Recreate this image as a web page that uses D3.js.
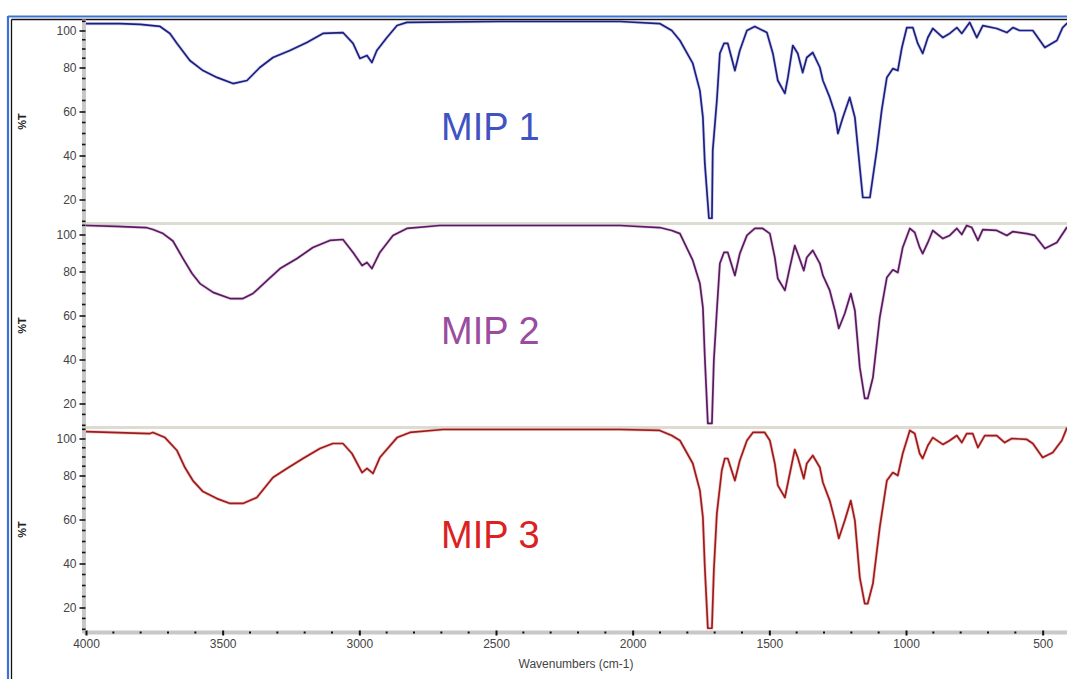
<!DOCTYPE html>
<html>
<head>
<meta charset="utf-8">
<script src="https://cdn.jsdelivr.net/npm/d3@7"></script>
<style>
  html, body { margin: 0; padding: 0; background: #ffffff; }
  svg { display: block; }
  text { font-family: "Liberation Sans", Arial, sans-serif; }
</style>
</head>
<body>
<svg id="chart" width="1067" height="679"></svg>
<script>
// FT-IR transmittance spectra of three imprinted polymers (wavenumber in cm-1, %T)
const mip1Wn = [4000,3876,3802,3729,3693,3667,3620,3572,3521,3462,3411,3364,3316,3254,3192,3133,3060,3023,2998,2972,2954,2936,2899,2862,2826,2486,2047,1901,1857,1827,1780,1754,1743,1736,1721,1710,1707,1692,1681,1666,1652,1626,1608,1582,1553,1509,1487,1469,1443,1432,1414,1396,1378,1363,1341,1315,1304,1279,1260,1249,1231,1206,1187,1169,1158,1132,1107,1089,1070,1048,1030,1015,997,975,957,939,920,902,865,840,814,796,767,741,719,668,631,609,584,536,492,448,427,412,400];
const mip1T  = [103.8,103.8,103.3,102.2,98.4,93.0,83.8,78.6,75.5,72.7,74.1,80.0,85.4,89.2,93.5,98.4,98.9,93.0,84.9,86.5,82.7,89.2,96.2,102.7,104.4,104.9,104.9,103.8,100.0,94.6,82.2,69.5,57.3,36.4,11.4,11.4,42.3,65.0,87.6,93.0,93.0,78.6,89.2,100.0,102.2,98.9,87.6,74.1,68.2,75.5,91.9,87.6,77.7,85.4,88.1,80.0,74.1,66.4,59.1,50.0,57.3,66.4,57.3,34.5,20.9,20.9,42.3,60.5,75.5,79.5,78.6,90.8,101.6,101.6,93.0,87.6,96.2,101.1,96.2,98.4,101.6,98.4,104.4,96.2,102.7,101.1,98.9,101.6,100.0,100.0,90.8,94.6,101.6,103.8,104.5];

const mip2Wn = [4000,3890,3780,3755,3718,3682,3645,3612,3583,3535,3473,3426,3389,3338,3290,3228,3170,3108,3060,3023,2990,2972,2954,2925,2877,2826,2705,2047,1901,1857,1827,1780,1754,1743,1736,1725,1710,1703,1692,1681,1666,1652,1626,1608,1582,1553,1524,1498,1480,1469,1443,1425,1407,1396,1374,1363,1341,1315,1304,1279,1260,1246,1224,1202,1187,1169,1151,1140,1121,1096,1070,1048,1030,1012,986,968,950,939,920,902,865,840,814,796,778,759,737,719,668,631,609,558,529,492,448,412,400];
const mip2T  = [104.9,104.4,103.8,102.7,100.5,96.5,87.0,79.1,74.5,70.5,67.7,67.7,70.0,75.9,81.6,87.0,93.0,96.8,97.3,90.3,83.2,84.9,81.6,90.3,99.5,103.3,104.9,104.9,103.8,102.2,100.5,86.0,74.5,63.6,40.9,10.9,10.9,39.5,62.3,84.3,90.3,90.3,78.2,89.7,99.5,103.3,103.3,100.5,87.6,76.8,71.4,82.2,94.0,89.7,80.5,87.6,91.4,84.3,78.2,71.4,62.3,54.1,60.9,70.0,62.3,36.4,22.3,22.3,31.8,59.1,77.3,80.9,79.5,93.0,103.3,101.1,93.0,89.7,95.7,102.2,97.8,99.5,103.3,100.0,104.9,103.8,96.8,102.7,102.2,99.5,101.6,100.5,99.5,92.4,95.7,103.8,104.5];

const mip3Wn = [4000,3766,3755,3711,3667,3638,3609,3572,3521,3473,3426,3375,3316,3265,3206,3144,3097,3060,3027,2990,2972,2950,2925,2862,2815,2694,2047,1901,1857,1827,1780,1754,1743,1736,1725,1710,1703,1692,1674,1663,1652,1626,1608,1582,1560,1517,1498,1480,1469,1443,1425,1407,1396,1374,1363,1341,1315,1304,1279,1260,1246,1224,1202,1187,1169,1151,1140,1121,1096,1070,1048,1030,1012,986,968,950,939,920,902,865,840,814,796,778,756,737,712,668,639,613,558,536,500,463,430,412,400];
const mip3T  = [103.8,102.7,103.3,100.5,93.5,84.3,77.7,72.7,69.5,67.3,67.3,70.0,79.1,83.8,89.2,94.6,97.3,97.3,91.9,81.6,83.8,81.1,89.7,100.5,103.3,104.9,104.9,104.4,101.6,98.9,86.5,73.2,60.9,38.2,10.5,10.5,36.8,62.7,82.7,89.2,89.2,77.7,88.1,98.9,103.3,103.3,98.9,86.5,75.5,70.0,81.1,94.0,89.7,78.6,86.5,90.8,84.3,76.8,68.6,59.5,51.4,59.5,68.6,59.5,33.6,21.8,21.8,30.9,56.4,77.7,81.6,80.0,91.9,104.4,102.7,91.9,89.2,96.2,100.5,96.8,98.9,101.6,97.8,102.7,102.7,95.1,101.6,101.6,97.8,100.0,99.5,97.3,89.7,92.4,98.9,105.5,105.8];

const seriesNames = ["MIP 1", "MIP 2", "MIP 3"];
const lineColors  = ["#1f1f80", "#5a1a60", "#9c1c1c"];
const labelColors = ["#4152c2", "#9a4c9f", "#db2222"];

const xTicks = [4000, 3500, 3000, 2500, 2000, 1500, 1000, 500];
const yTicks = [20, 40, 60, 80, 100];
const xTitle = "Wavenumbers (cm-1)";
const yTitle = "%T";

// ---- layout ----
const svg = d3.select("#chart");
const plotLeft = 86, plotRight = 1070;
const panelTop0 = 19.5, panelStep = 204;
const panels = [
  { wn: mip1Wn, t: mip1T },
  { wn: mip2Wn, t: mip2T },
  { wn: mip3Wn, t: mip3T }
];

const x = d3.scaleLinear().domain([4000, 400]).range([plotLeft, plotRight]);

// Transmittance axis of the instrument software is compressed above 80 %T
function yScale(top) {
  return d3.scaleLinear()
    .domain([9, 20, 80, 100, 106])
    .range([top + 204, top + 180, top + 48, top + 11, top]);
}

// window frame
svg.append("line").attr("x1", 8).attr("x2", 1067).attr("y1", 16.5).attr("y2", 16.5)
  .attr("stroke", "#3d72d4").attr("stroke-width", 2.2);
svg.append("line").attr("x1", 8).attr("x2", 8).attr("y1", 16).attr("y2", 679)
  .attr("stroke", "#3d72d4").attr("stroke-width", 2.2);
svg.append("line").attr("x1", 11.5).attr("x2", 1067).attr("y1", 19.5).attr("y2", 19.5)
  .attr("stroke", "#111").attr("stroke-width", 1.3);
svg.append("line").attr("x1", 11.5).attr("x2", 11.5).attr("y1", 19.5).attr("y2", 679)
  .attr("stroke", "#111").attr("stroke-width", 1.3);

// panel separators
[1, 2].forEach(i => {
  const yy = panelTop0 + i * panelStep;
  svg.append("line").attr("x1", plotLeft).attr("x2", 1067).attr("y1", yy).attr("y2", yy)
    .attr("stroke", "#dedbd0").attr("stroke-width", 3);
});

// vertical axis band
const axisBottomY = panelTop0 + 3 * panelStep;
svg.append("line").attr("x1", 84).attr("x2", 84).attr("y1", panelTop0).attr("y2", axisBottomY + 2)
  .attr("stroke", "#c8c8c8").attr("stroke-width", 4);

panels.forEach((p, i) => {
  const top = panelTop0 + i * panelStep;
  const y = yScale(top);

  // minor ticks every 5 %T
  const minor = d3.range(10, 106, 5).filter(v => yTicks.indexOf(v) < 0);
  svg.append("g").selectAll("line").data(minor).join("line")
    .attr("x1", 82).attr("x2", 85.5)
    .attr("y1", d => y(d)).attr("y2", d => y(d))
    .attr("stroke", "#111").attr("stroke-width", 1.6);

  // major ticks and labels
  const ax = svg.append("g")
    .attr("transform", `translate(85.5,0)`)
    .call(d3.axisLeft(y).tickValues(yTicks).tickSize(6).tickPadding(3).tickFormat(d3.format("d")));
  ax.select(".domain").remove();
  ax.selectAll(".tick line").attr("stroke", "#111").attr("stroke-width", 1.6);
  ax.selectAll(".tick text")
    .attr("fill", "#444").attr("font-size", 12)
    .attr("font-family", "'Liberation Sans', Arial, sans-serif");

  // y title
  svg.append("text")
    .attr("transform", `translate(26,${top + 102}) rotate(-90)`)
    .attr("text-anchor", "middle")
    .attr("font-size", 11).attr("font-weight", "bold").attr("fill", "#222")
    .text(yTitle);

  // spectrum
  const pts = p.wn.map((w, k) => [w, p.t[k]]);
  const line = d3.line().x(d => x(d[0])).y(d => y(d[1]));
  svg.append("path").datum(pts)
    .attr("d", line)
    .attr("fill", "none")
    .attr("stroke", labelColors[i]).attr("stroke-opacity", 0.25)
    .attr("stroke-width", 3.2).attr("stroke-linejoin", "round");
  svg.append("path").datum(pts)
    .attr("d", line)
    .attr("fill", "none")
    .attr("stroke", lineColors[i])
    .attr("stroke-width", 1.7).attr("stroke-linejoin", "round");

  // series label
  svg.append("text")
    .attr("x", 441).attr("y", top + 120)
    .attr("font-size", 38).attr("fill", labelColors[i])
    .text(seriesNames[i]);
});

// horizontal axis band
svg.append("line").attr("x1", plotLeft - 2).attr("x2", 1067).attr("y1", axisBottomY + 1).attr("y2", axisBottomY + 1)
  .attr("stroke", "#c8c8c8").attr("stroke-width", 4);

// minor x ticks every 100 cm-1
const xMinor = d3.range(500, 4000, 100).filter(v => v % 500 !== 0);
svg.append("g").selectAll("rect").data(xMinor).join("rect")
  .attr("x", d => x(d) - 1).attr("y", axisBottomY).attr("width", 2).attr("height", 2)
  .attr("fill", "#111");

const xa = svg.append("g")
  .attr("transform", `translate(0,${axisBottomY - 1})`)
  .call(d3.axisBottom(x).tickValues(xTicks).tickSize(5).tickPadding(4).tickFormat(d3.format("d")));
xa.select(".domain").remove();
xa.selectAll(".tick line").attr("stroke", "#111").attr("stroke-width", 2);
xa.selectAll(".tick text")
  .attr("fill", "#444").attr("font-size", 12)
  .attr("font-family", "'Liberation Sans', Arial, sans-serif");

svg.append("text")
  .attr("x", (plotLeft + plotRight) / 2 - 2).attr("y", 668)
  .attr("text-anchor", "middle")
  .attr("font-size", 12).attr("fill", "#444")
  .text(xTitle);
</script>
</body>
</html>
